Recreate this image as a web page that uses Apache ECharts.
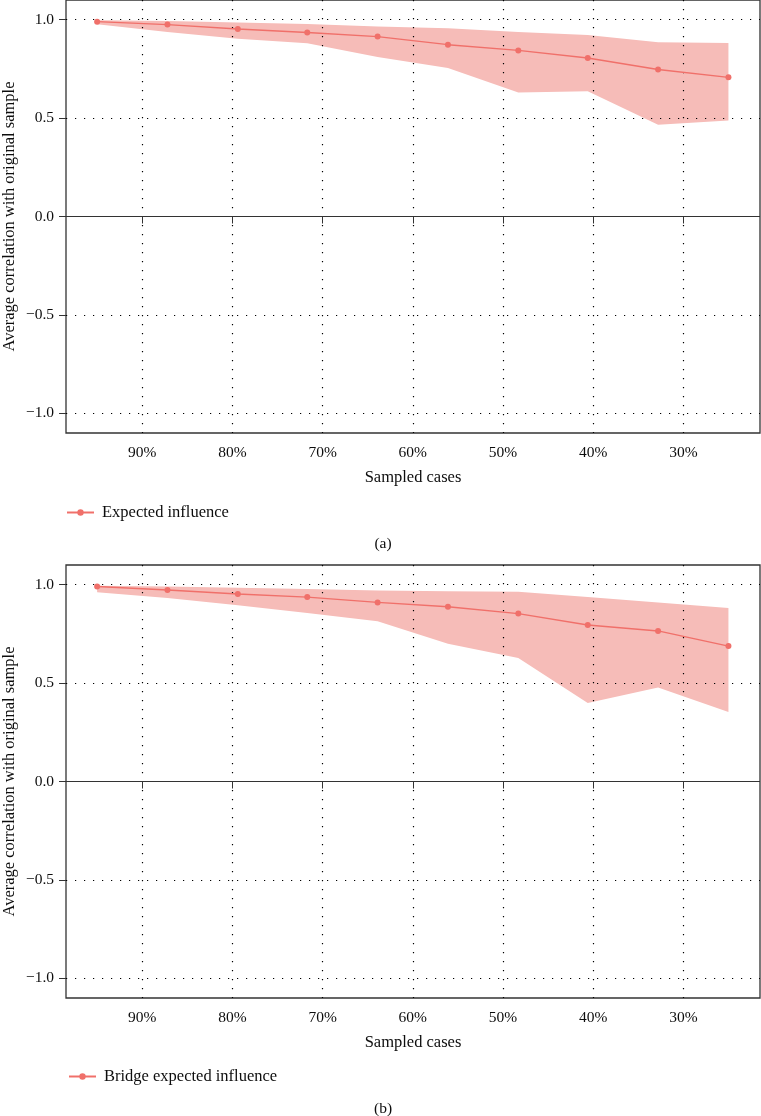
<!DOCTYPE html>
<html>
<head>
<meta charset="utf-8">
<script src="https://cdn.jsdelivr.net/npm/echarts@6/dist/echarts.min.js"></script>
<style>
html,body{margin:0;padding:0;background:#fff;}
#chart{width:761px;height:1116px;}
</style>
</head>
<body>
<div id="chart"></div>
<script>
// Sampled cases (%), shared by both panels
var sampledCases = [95, 87.2, 79.4, 71.7, 63.9, 56.1, 48.3, 40.6, 32.8, 25.0];
var xTicks = [90, 80, 70, 60, 50, 40, 30];
var yTicks = [-1, -0.5, 0, 0.5, 1];

// Panel (a): Expected influence
var eiMean  = [0.990, 0.975, 0.953, 0.935, 0.914, 0.873, 0.844, 0.805, 0.747, 0.707];
var eiUpper = [0.997, 0.993, 0.986, 0.978, 0.965, 0.956, 0.937, 0.922, 0.885, 0.882];
var eiLower = [0.977, 0.937, 0.903, 0.880, 0.810, 0.754, 0.630, 0.636, 0.466, 0.488];

// Panel (b): Bridge expected influence
var beiMean  = [0.991, 0.973, 0.953, 0.937, 0.910, 0.888, 0.853, 0.795, 0.765, 0.688];
var beiUpper = [0.995, 0.991, 0.985, 0.978, 0.970, 0.966, 0.964, 0.937, 0.910, 0.881];
var beiLower = [0.961, 0.932, 0.895, 0.856, 0.814, 0.700, 0.627, 0.399, 0.478, 0.353];

var seriesNames = ['Expected influence', 'Bridge expected influence'];
var panelLabels = ['(a)', '(b)'];

var FONT = 'Liberation Serif';
var RED = '#F0706A';
var BAND = '#F6BCB8';
var TXT = '#0d0d0d';

function pairs(xs, ys){ return xs.map(function(x,i){ return [x, ys[i]]; }); }

function fmtY(v){
  var s = Math.abs(v).toFixed(1);
  return v < 0 ? '\u2212' + s : s;
}

var gridTops = [0, 565];
var gridH = 433;

var grids = gridTops.map(function(t){
  return {left: 66, top: t, width: 694, height: gridH, show: true,
          outerBoundsMode: 'none', containLabel: false,
          borderColor: '#333', borderWidth: 1.3, backgroundColor: 'transparent'};
});

var xAxes = [0,1].map(function(i){
  return {
    type: 'value', gridIndex: i, inverse: true, min: 21.5, max: 98.45,
    name: 'Sampled cases', nameLocation: 'middle', nameGap: 36, nameMoveOverlap: false,
    nameTextStyle: {fontFamily: FONT, fontSize: 16.5, color: TXT},
    axisLine: {show: false},
    axisTick: {show: true, length: 7, lineStyle: {color: '#333', width: 1}, customValues: xTicks},
    axisLabel: {customValues: xTicks, fontFamily: FONT, fontSize: 15.5, color: TXT, margin: 12,
                formatter: function(v){ return v + '%'; }},
    splitLine: {show: true, lineStyle: {color: '#000', width: 1.2, type: [1.2, 7.8]}}
  };
});

var yAxes = [0,1].map(function(i){
  return {
    type: 'value', gridIndex: i, min: -1.1, max: 1.1,
    name: 'Average correlation with original sample', nameLocation: 'middle', nameGap: 48,
    nameMoveOverlap: false,
    nameTextStyle: {fontFamily: FONT, fontSize: 16.5, color: TXT},
    axisLine: {show: false},
    axisTick: {show: true, length: 7, lineStyle: {color: '#333', width: 1}, customValues: yTicks},
    axisLabel: {customValues: yTicks, fontFamily: FONT, fontSize: 15.5, color: TXT, margin: 12,
                formatter: fmtY},
    splitLine: {show: true, lineStyle: {color: '#000', width: 1.2, type: [1.2, 7.8]}}
  };
});

var panels = [
  {mean: eiMean, upper: eiUpper, lower: eiLower},
  {mean: beiMean, upper: beiUpper, lower: beiLower}
];

var series = [];
panels.forEach(function(p, i){
  series.push({
    type: 'custom', xAxisIndex: i, yAxisIndex: i, name: 'band' + i,
    silent: true, z: -1,
    data: [[sampledCases[0], p.upper[0]]],
    renderItem: function(params, api){
      var pts = [];
      for (var j = 0; j < sampledCases.length; j++) pts.push(api.coord([sampledCases[j], p.upper[j]]));
      for (var k = sampledCases.length - 1; k >= 0; k--) pts.push(api.coord([sampledCases[k], p.lower[k]]));
      return {type: 'polygon', shape: {points: pts}, style: {fill: BAND}};
    }
  });
  series.push({
    type: 'line', xAxisIndex: i, yAxisIndex: i, name: seriesNames[i],
    data: pairs(sampledCases, p.mean), symbol: 'circle', symbolSize: 6,
    showSymbol: true, color: RED,
    lineStyle: {color: RED, width: 1.4}, itemStyle: {color: RED}, z: 3,
    markLine: {silent: true, symbol: 'none', label: {show: false},
               lineStyle: {color: '#333', width: 1.2, type: 'solid'},
               data: [{yAxis: 0}], animation: false}
  });
});

var legends = [0,1].map(function(i){
  return {
    data: [seriesNames[i]],
    left: [61, 63][i], top: [499, 1063][i], itemWidth: 27, itemHeight: 8, itemGap: 8,
    textStyle: {fontFamily: FONT, fontSize: 16.5, color: TXT, padding: [0, 0, 0, 3]},
    selectedMode: false
  };
});

var titles = [0,1].map(function(i){
  return {text: panelLabels[i], left: 378, top: [531, 1096][i], textAlign: 'center',
          textStyle: {fontFamily: FONT, fontSize: 15.5, fontWeight: 'normal', color: TXT}};
});

var chart = echarts.init(document.getElementById('chart'), null, {renderer: 'canvas'});
chart.setOption({
  animation: false,
  backgroundColor: '#fff',
  title: titles,
  legend: legends,
  grid: grids,
  xAxis: xAxes,
  yAxis: yAxes,
  series: series
});
</script>
</body>
</html>
